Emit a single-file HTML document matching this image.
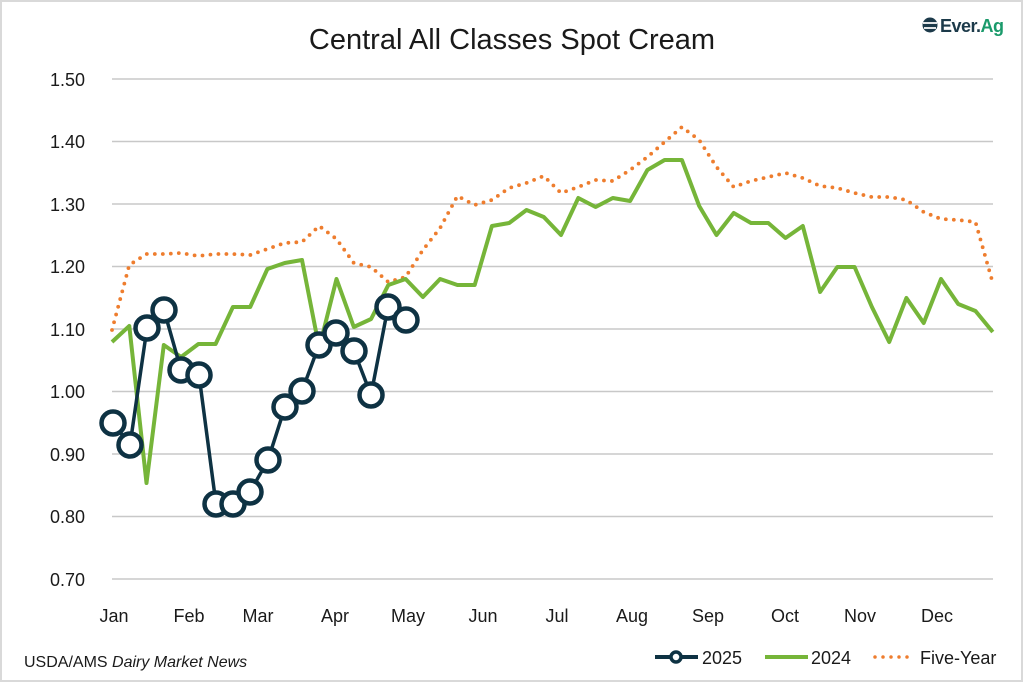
<!DOCTYPE html>
<html><head><meta charset="utf-8"><style>
html,body{margin:0;padding:0;background:#fff;}
svg{display:block;}
text{font-family:"Liberation Sans",sans-serif;fill:#1a1a1a;}
</style></head><body>
<svg width="1024" height="683" viewBox="0 0 1024 683" xmlns="http://www.w3.org/2000/svg">
<rect x="1" y="1" width="1021" height="680" fill="#fff" stroke="#d9d9d9" stroke-width="2"/>
<text x="512" y="49" font-size="29" text-anchor="middle">Central All Classes Spot Cream</text>
<g>
<circle cx="930" cy="25" r="7.5" fill="#1c3a4a"/>
<path d="M923 23 h14 M924 28 h12" stroke="#fff" stroke-width="1.8"/>
<text x="940" y="32" font-size="18" font-weight="bold" letter-spacing="-0.5" style="fill:#1c3a4a">Ever.<tspan style="fill:#1a9a6b">Ag</tspan></text>
</g>
<g stroke="#c8c8c8" stroke-width="1.5">
<line x1="112" y1="79" x2="993" y2="79"/>
<line x1="112" y1="141.5" x2="993" y2="141.5"/>
<line x1="112" y1="204" x2="993" y2="204"/>
<line x1="112" y1="266.5" x2="993" y2="266.5"/>
<line x1="112" y1="329" x2="993" y2="329"/>
<line x1="112" y1="391.5" x2="993" y2="391.5"/>
<line x1="112" y1="454" x2="993" y2="454"/>
<line x1="112" y1="516.5" x2="993" y2="516.5"/>
<line x1="112" y1="579" x2="993" y2="579"/>
</g>
<g font-size="18" text-anchor="end">
<text x="85" y="86">1.50</text>
<text x="85" y="148">1.40</text>
<text x="85" y="211">1.30</text>
<text x="85" y="273">1.20</text>
<text x="85" y="336">1.10</text>
<text x="85" y="398">1.00</text>
<text x="85" y="461">0.90</text>
<text x="85" y="523">0.80</text>
<text x="85" y="586">0.70</text>
</g>
<g font-size="18" text-anchor="middle">
<text x="114" y="622">Jan</text>
<text x="189" y="622">Feb</text>
<text x="258" y="622">Mar</text>
<text x="335" y="622">Apr</text>
<text x="408" y="622">May</text>
<text x="483" y="622">Jun</text>
<text x="557" y="622">Jul</text>
<text x="632" y="622">Aug</text>
<text x="708" y="622">Sep</text>
<text x="785" y="622">Oct</text>
<text x="860" y="622">Nov</text>
<text x="937" y="622">Dec</text>
</g>
<polyline fill="none" stroke="#ee7d2e" stroke-width="3.8" stroke-linecap="round" stroke-dasharray="0 8"
points="112,330 129.3,265 146.5,254 163.8,254 181.1,253 198.4,256 215.6,254 232.9,254 250.2,255 267.4,249 284.7,243 302,242 319.2,226 336.5,239 353.8,263 371.1,267 388.3,282 405.6,277 422.9,250 440.1,228 457.4,196 474.7,205 491.9,200 509.2,188 526.5,183 543.8,176 561,193 578.3,187 595.6,180 612.8,181 630.1,170 647.4,157 664.6,142 681.9,127 699.2,140 716.5,167 733.7,187 751,181 768.3,177 785.5,173 802.8,178 820.1,186 837.3,188 854.6,193 871.9,197 889.2,197 906.4,200 923.7,212 941,219 958.2,220 975.5,222 992.8,283"/>
<polyline fill="none" stroke="#76b539" stroke-width="4" stroke-linejoin="round"
points="112,342 129.3,326 146.5,483 163.8,345 181.1,357 198.4,344 215.6,344 232.9,307 250.2,307 267.4,269 284.7,263 302,260 319.2,348 336.5,279 353.8,327 371.1,319 388.3,285 405.6,279 422.9,297 440.1,279 457.4,285 474.7,285 491.9,226 509.2,223 526.5,210 543.8,217 561,235 578.3,198 595.6,207 612.8,198 630.1,201 647.4,170 664.6,160 681.9,160 699.2,206 716.5,235 733.7,213 751,223 768.3,223 785.5,238 802.8,226 820.1,292 837.3,267 854.6,267 871.9,307 889.2,342 906.4,298 923.7,323 941,279 958.2,304 975.5,311 992.8,332"/>
<g fill="none" stroke="#0e3243" stroke-width="3.5">
<polyline points="113,423 130,445 147,328 164,310 181,370 199,375 216,504 233,504 250,492 268,460 285,407 302,391 319,345 336,333 354,351 371,395 388,307 406,320"/>
</g>
<g fill="#fff" stroke="#0e3243" stroke-width="4.5">
<circle cx="113" cy="423" r="11.5"/><circle cx="130" cy="445" r="11.5"/><circle cx="147" cy="328" r="11.5"/><circle cx="164" cy="310" r="11.5"/><circle cx="181" cy="370" r="11.5"/><circle cx="199" cy="375" r="11.5"/><circle cx="216" cy="504" r="11.5"/><circle cx="233" cy="504" r="11.5"/><circle cx="250" cy="492" r="11.5"/><circle cx="268" cy="460" r="11.5"/><circle cx="285" cy="407" r="11.5"/><circle cx="302" cy="391" r="11.5"/><circle cx="319" cy="345" r="11.5"/><circle cx="336" cy="333" r="11.5"/><circle cx="354" cy="351" r="11.5"/><circle cx="371" cy="395" r="11.5"/><circle cx="388" cy="307" r="11.5"/><circle cx="406" cy="320" r="11.5"/>
</g>
<text x="24" y="667" font-size="16">USDA/AMS <tspan font-style="italic">Dairy Market News</tspan></text>
<line x1="655" y1="657" x2="698" y2="657" stroke="#0e3243" stroke-width="4"/>
<circle cx="676" cy="657" r="5" fill="#fff" stroke="#0e3243" stroke-width="3.5"/>
<text x="702" y="664" font-size="18">2025</text>
<line x1="765" y1="657" x2="808" y2="657" stroke="#76b539" stroke-width="4"/>
<text x="811" y="664" font-size="18">2024</text>
<line x1="875" y1="657" x2="915" y2="657" stroke="#ee7d2e" stroke-width="3.5" stroke-linecap="round" stroke-dasharray="0 8"/>
<text x="920" y="664" font-size="18">Five-Year</text>
</svg>
</body></html>
